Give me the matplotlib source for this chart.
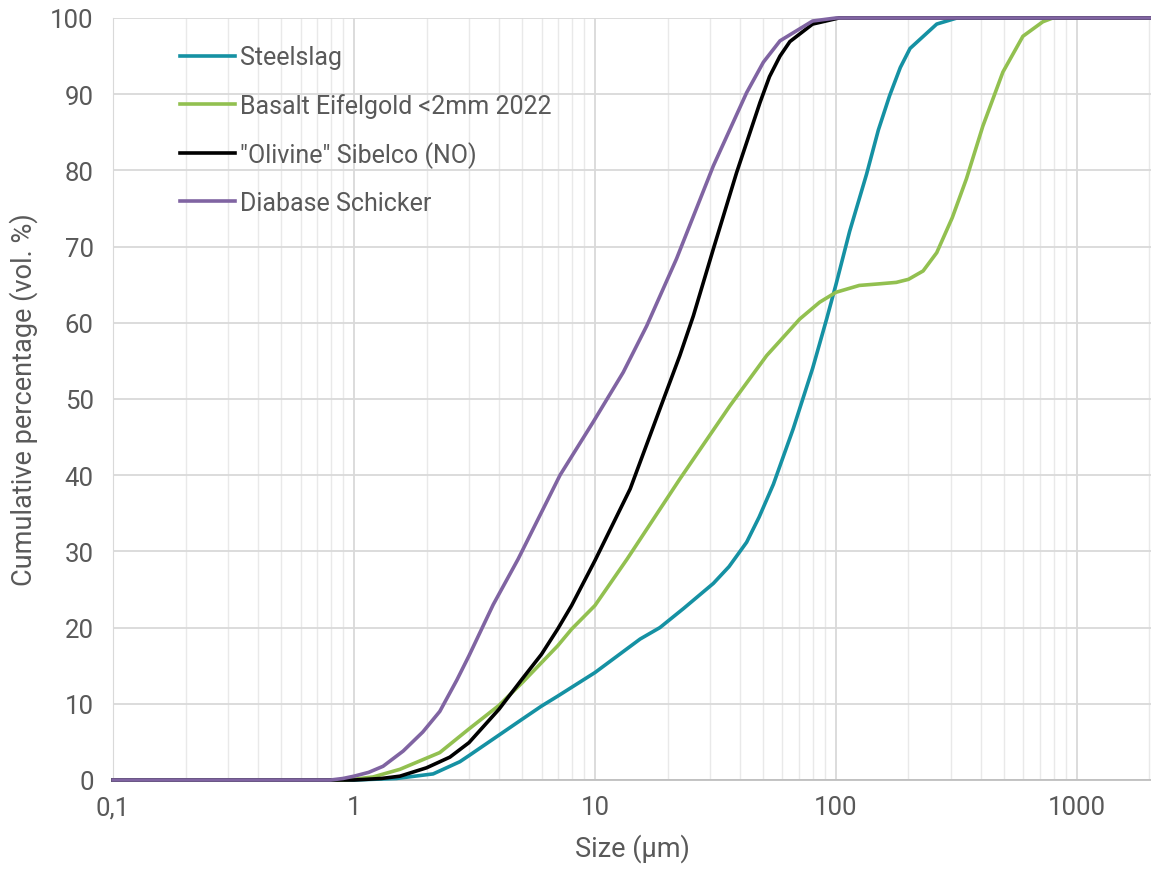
import matplotlib
matplotlib.use("Agg")
import matplotlib.pyplot as plt
from matplotlib.ticker import FixedLocator, FixedFormatter, LogLocator, NullFormatter

# --- data (size in um, cumulative vol. %) ---
steel_size = [0.1, 1.0, 1.5, 2.13, 2.75, 3, 4, 5, 6, 7, 10, 15.4, 18.6, 23.3, 31, 36,
              42.6, 48, 55, 66.5, 80, 91.5, 100, 114, 134, 150, 167, 185, 203, 262, 318, 2000]
steel_pct = [0, 0, 0.2, 0.8, 2.4, 3.2, 5.9, 8.0, 9.7, 11.0, 14.1, 18.5, 20.0, 22.5, 25.8, 28,
             31.2, 34.5, 38.8, 46.1, 54, 60.5, 65, 72, 79.5, 85.3, 89.8, 93.5, 96, 99.2, 100, 100]

basalt_size = [0.1, 0.9, 1.0, 1.2, 1.55, 2.27, 3, 4, 5, 6, 7, 8, 10, 13.6, 22.5, 36.3,
               51.6, 58.5, 70.8, 85.6, 100, 125, 150, 178, 200, 230, 262, 304, 348,
               407, 493, 597, 722, 794, 2000]
basalt_pct = [0, 0, 0.1, 0.4, 1.4, 3.6, 6.7, 9.8, 12.8, 15.4, 17.6, 19.8, 22.9, 29, 39.5, 49.1,
              55.7, 57.6, 60.5, 62.7, 64, 64.9, 65.1, 65.3, 65.7, 66.8, 69.2, 73.8, 78.9,
              85.8, 92.9, 97.6, 99.5, 100, 100]

olivine_size = [0.1, 1.0, 1.3, 1.55, 2, 2.5, 3, 4, 5, 6, 7, 8, 10, 14, 18.6, 22.5, 25.6,
                31, 38.7, 48.4, 53, 58.6, 64.4, 80, 103, 2000]
olivine_pct = [0, 0, 0.2, 0.5, 1.6, 3.0, 4.9, 9.3, 13.3, 16.5, 19.8, 22.9, 28.8, 38.2, 48.7,
               55.7, 60.9, 69.7, 79.7, 88.9, 92.3, 95.0, 96.9, 99.2, 100, 100]

diabase_size = [0.1, 0.8, 0.9, 1.0, 1.15, 1.32, 1.6, 1.93, 2.27, 2.67, 3, 3.78, 4.8, 7.16,
                9.84, 13.1, 16.4, 21.8, 31, 42.6, 50, 58.6, 80, 100, 2000]
diabase_pct = [0, 0, 0.2, 0.5, 1.0, 1.8, 3.8, 6.3, 9.0, 13.1, 16.3, 23.0, 29, 40, 47,
               53.5, 59.6, 68.4, 80.6, 90.2, 94.2, 97.0, 99.6, 100, 100]

series_names = ["Steelslag", "Basalt Eifelgold <2mm 2022", "\"Olivine\" Sibelco (NO)", "Diabase Schicker"]
x_ticks = [0.1, 1, 10, 100, 1000]
x_tick_labels = ["0,1", "1", "10", "100", "1000"]
y_ticks = list(range(0, 101, 10))

plt.rcParams['font.family'] = ['Roboto', 'DejaVu Sans']
text_col = '#595959'

fig = plt.figure(figsize=(11.51, 8.70), dpi=100, facecolor='white')
ax = fig.add_axes([0.0982, 0.1023, 0.9018, 0.8759])

series = [
    (steel_size, steel_pct, '#1591a3'),
    (basalt_size, basalt_pct, '#92c050'),
    (olivine_size, olivine_pct, '#000000'),
    (diabase_size, diabase_pct, '#8064a2'),
]
for (sx, sy, col), name in zip(series, series_names):
    ax.plot(sx, sy, color=col, lw=2.6, label=name, clip_on=False, zorder=3,
            solid_joinstyle='round')

ax.set_xscale('log')
ax.set_xlim(0.1, 2030)
ax.set_ylim(0, 100)

ax.xaxis.set_major_locator(FixedLocator(x_ticks))
ax.xaxis.set_major_formatter(FixedFormatter(x_tick_labels))
ax.xaxis.set_minor_locator(LogLocator(base=10, subs=range(2, 10)))
ax.xaxis.set_minor_formatter(NullFormatter())
ax.set_yticks(y_ticks)

ax.grid(which='major', axis='both', color='#d9d9d9', lw=1.3, zorder=0)
ax.grid(which='minor', axis='x', color='#e9e9e9', lw=1.0, zorder=0)
ax.set_axisbelow(True)

for s in ['top', 'right']:
    ax.spines[s].set_visible(False)
ax.spines['left'].set_color('#d9d9d9')
ax.spines['bottom'].set_color('#bfbfbf')
ax.spines['bottom'].set_linewidth(1.3)

ax.tick_params(which='both', length=0, colors=text_col, labelsize=18.5)
ax.tick_params(axis='x', pad=11)
ax.tick_params(axis='y', pad=14)

ax.set_xlabel("Size (µm)", color=text_col, fontsize=19.5, labelpad=10)
ax.set_ylabel("Cumulative percentage (vol. %)", color=text_col, fontsize=19.5, labelpad=9)

leg = ax.legend(loc='upper left', bbox_to_anchor=(0.055, 0.977), frameon=False,
                fontsize=18, handlelength=2.2, handletextpad=0.2, labelspacing=0.93,
                borderaxespad=0)
for t in leg.get_texts():
    t.set_color(text_col)

plt.savefig("out.png", dpi=100, facecolor='white')
plt.close(fig)
